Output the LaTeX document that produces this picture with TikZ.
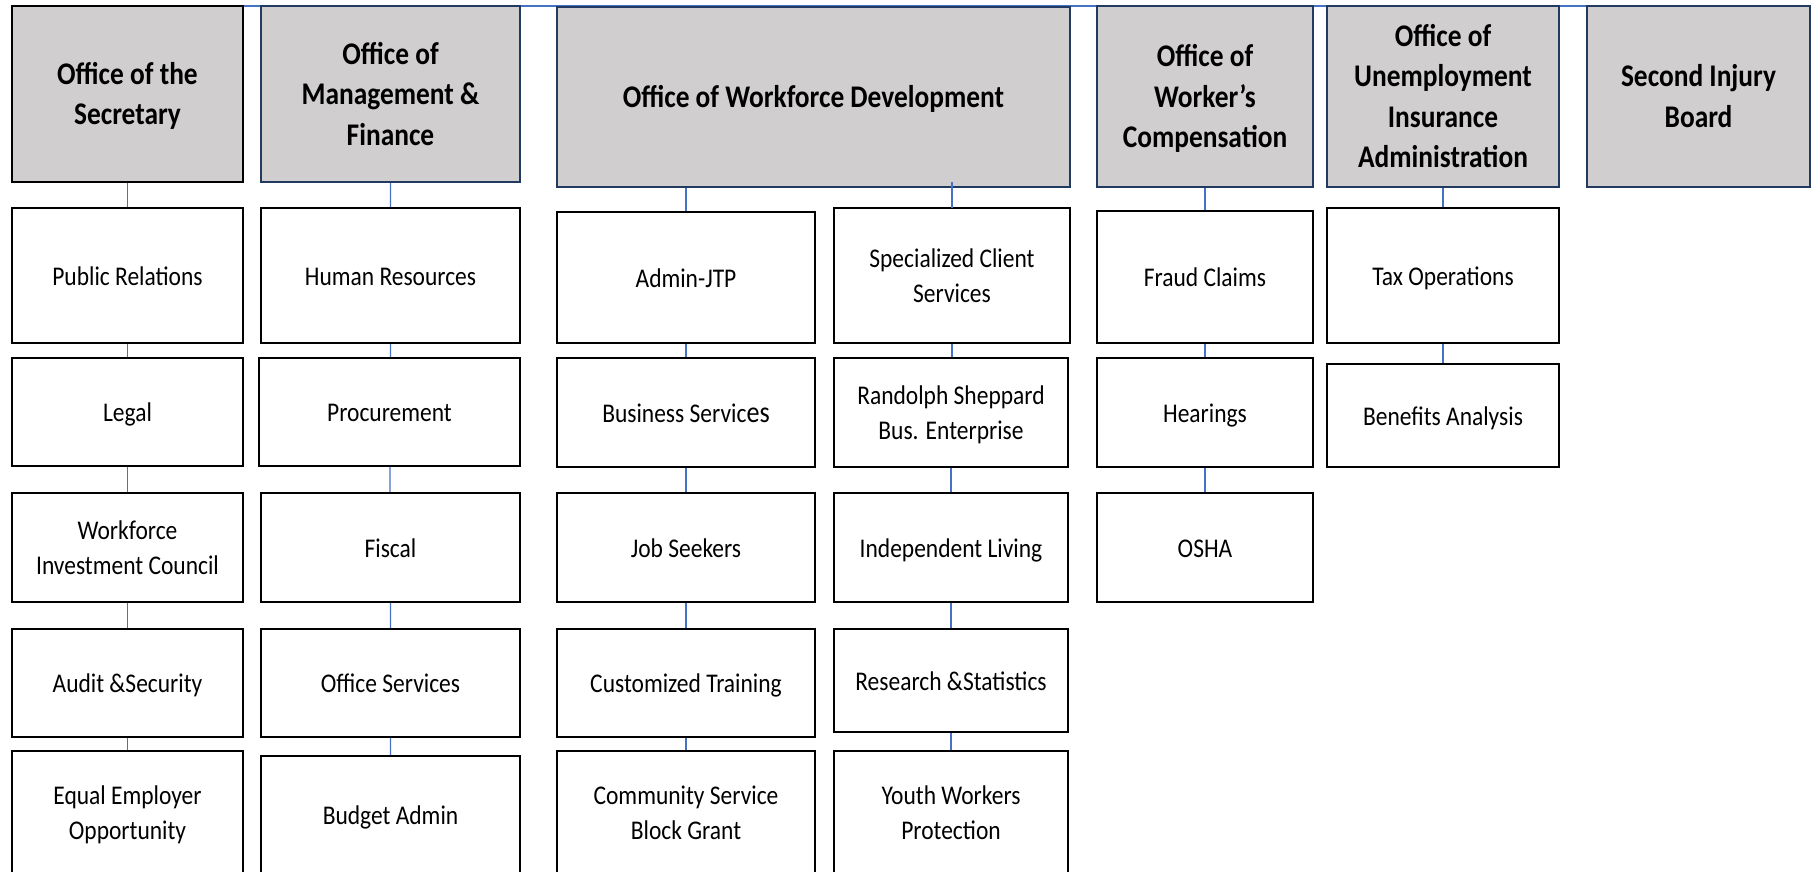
\documentclass[tikz,border=0pt]{standalone}
\usepackage{fontspec}
\setmainfont{Carlito}[FakeStretch=0.87]
\usetikzlibrary{backgrounds}
\definecolor{headgray}{HTML}{D0CECE}
\definecolor{headline}{HTML}{233A60}
\definecolor{linkblue}{HTML}{4472C4}

% centred lines of text, set a little low while keeping their measured size
\newcommand\lowtext[2]{%
  \raisebox{-#1}[\height][\depth]{\begin{tabular}{@{}c@{}}#2\end{tabular}}}

% box from its corners: style, name, x1, y1, x2, y2, text
\newcommand\orgbox[7]{%
  \node[#1, minimum width={(#5)-(#3)}, minimum height={(#6)-(#4)}]
    (#2) at ({((#3)+(#5))/2},{((#4)+(#6))/2}) {\lowtext{2.5pt}{#7}};}

\begin{document}
\begin{tikzpicture}[x=1pt,y=-1pt,
  headbox/.style={draw=headline, fill=headgray, line width=2.3pt,
    inner sep=0pt, outer sep=0pt,
    font=\bfseries\fontsize{31.5}{40.5}\selectfont},
  unitbox/.style={draw=black, fill=white, line width=2.3pt,
    inner sep=0pt, outer sep=0pt,
    font=\fontsize{27}{35}\selectfont},
  link/.style={draw=linkblue, line width=1.2pt}]
\useasboundingbox (0,0) rectangle (1812,872);
\clip (0,0) rectangle (1812,872);

% department heads
\orgbox{headbox, draw=black}{sec}{12}{6}{243}{182}{Office of the\\Secretary}
\orgbox{headbox}{mgf}{261}{6}{520}{182}{Office of\\Management \&\\Finance}
\orgbox{headbox}{wd}{557}{7}{1070}{187}{Office of Workforce Development}
\orgbox{headbox}{wc}{1097}{6}{1313}{187}{Office of\\Worker’s\\Compensation}
\orgbox{headbox}{ui}{1327}{6}{1559}{187}{Office of\\Unemployment\\Insurance\\Administration}
\orgbox{headbox}{sib}{1587}{6}{1810}{187}{Second Injury\\Board}

% Secretary units
\orgbox{unitbox}{pr}{12}{208}{243}{343}{Public Relations}
\orgbox{unitbox}{legal}{12}{358}{243}{466}{Legal}
\orgbox{unitbox}{wic}{12}{493}{243}{602}{Workforce\\Investment Council}
\orgbox{unitbox}{audit}{12}{629}{243}{737}{Audit \&Security}
\orgbox{unitbox}{eeo}{12}{751}{243}{874}{Equal Employer\\Opportunity}

% Management & Finance units
\orgbox{unitbox}{hr}{261}{208}{520}{343}{Human Resources}
\orgbox{unitbox}{proc}{259}{358}{520}{466}{Procurement}
\orgbox{unitbox}{fisc}{261}{493}{520}{602}{Fiscal}
\orgbox{unitbox}{offs}{261}{629}{520}{737}{Office Services}
\orgbox{unitbox}{budg}{261}{756}{520}{874}{Budget Admin}

% Workforce Development units, left branch
\orgbox{unitbox}{ajtp}{557}{212}{815}{343}{Admin-JTP}
\orgbox{unitbox}{bus}{557}{358}{815}{467}{Business Servic{\fontsize{30}{35}\selectfont es}}
\orgbox{unitbox}{jobs}{557}{493}{815}{602}{Job Seekers}
\orgbox{unitbox}{cust}{557}{629}{815}{737}{Customized Training}
\orgbox{unitbox}{csbg}{557}{751}{815}{874}{Community Service\\Block Grant}

% Workforce Development units, right branch
\orgbox{unitbox}{scs}{834}{208}{1070}{343}{Specialized Client\\Services}
\orgbox{unitbox}{rsbe}{834}{358}{1068}{467}{Randolph Sheppard\\Bus. Enterprise}
\orgbox{unitbox}{indl}{834}{493}{1068}{602}{Independent Living}
\orgbox{unitbox}{rstat}{834}{629}{1068}{732}{Research \&Statistics}
\orgbox{unitbox}{ywp}{834}{751}{1068}{874}{Youth Workers\\Protection}

% Worker's Compensation units
\orgbox{unitbox}{fraud}{1097}{211}{1313}{343}{Fraud Claims}
\orgbox{unitbox}{hear}{1097}{358}{1313}{467}{Hearings}
\orgbox{unitbox}{osha}{1097}{493}{1313}{602}{OSHA}

% Unemployment Insurance units
\orgbox{unitbox}{tax}{1327}{208}{1559}{343}{Tax Operations}
\orgbox{unitbox}{ben}{1327}{364}{1559}{467}{Benefits Analysis}

% reporting lines, behind the boxes
\begin{scope}[on background layer]
  \draw[link] (sec.north east) -- (sib.north west);
  \draw[link] (sec) -- (pr) -- (legal) -- (wic) -- (audit) -- (eeo);
  \draw[link] (mgf) -- (hr) -- (proc.north -| hr) (proc) -- (fisc) -- (offs) -- (budg);
  \draw[link] (ajtp.north |- wd.south) -- (ajtp) -- (bus) -- (jobs) -- (cust) -- (csbg);
  \draw[link] (scs) -- (rsbe.north -| scs) (rsbe) -- (indl) -- (rstat) -- (ywp);
  \draw[link] (wc) -- (fraud) -- (hear) -- (osha);
  \draw[link] (ui) -- (tax) -- (ben);
\end{scope}
% right branch line reaches up into the Workforce Development box
\coordinate (wdtap) at ([yshift=5pt]scs.north |- wd.south);
\draw[link] (wdtap) -- (scs.north);
\end{tikzpicture}
\end{document}
